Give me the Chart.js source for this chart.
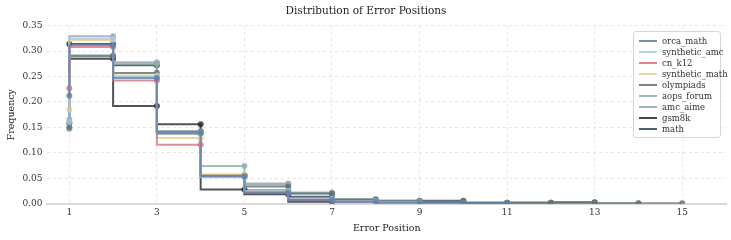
<!DOCTYPE html>
<html>
<head>
<meta charset="utf-8">
<script src="https://cdn.jsdelivr.net/npm/chart.js@4"></script>
<style>
  html, body { margin: 0; padding: 0; background: #fff; }
  #wrap { position: relative; width: 731px; height: 240px; }
  #legend {
    position: absolute; left: 633px; top: 31px; width: 88px;
    background: rgba(255,255,255,0.9); border: 1px solid #d6d6d6; border-radius: 3px;
    font-family: "DejaVu Serif", serif; font-size: 8.5px; color: #333;
    padding: 3px 2px 3px 5px; box-sizing: border-box; white-space: nowrap;
  }
  #legend .item { display: flex; align-items: center; height: 11px; }
  #legend .swatch { flex: 0 0 18px; height: 2px; margin-right: 5px; }
</style>
</head>
<body>
<div id="wrap">
  <canvas id="chart" width="731" height="240"></canvas>
  <div id="legend"></div>
</div>
<script>
// error positions and tick labels
const xTicks = [1, 3, 5, 7, 9, 11, 13, 15];
const positions = [1, 2, 3, 4, 5, 6, 7, 8, 9, 10, 11, 12, 13, 14, 15];

// frequency per error position (starting at position 1)
const orcaMath      = [0.212, 0.312, 0.247, 0.140, 0.054, 0.022, 0.008, 0.004, 0.002, 0.002, 0.001];
const syntheticAmc  = [0.160, 0.324, 0.250, 0.140, 0.052, 0.025, 0.010, 0.005, 0.003];
const cnK12         = [0.227, 0.308, 0.242, 0.116, 0.054, 0.022, 0.007, 0.003, 0.002, 0.001];
const syntheticMath = [0.185, 0.321, 0.252, 0.129, 0.058, 0.024, 0.009, 0.004, 0.002];
const olympiads     = [0.150, 0.290, 0.257, 0.142, 0.056, 0.034, 0.020, 0.008, 0.005, 0.004, 0.002, 0.002, 0.002, 0.001, 0.001];
const aopsForum     = [0.147, 0.292, 0.275, 0.140, 0.074, 0.038, 0.020, 0.009, 0.006, 0.004, 0.002, 0.002, 0.001, 0.001];
const amcAime       = [0.165, 0.329, 0.278, 0.142, 0.055, 0.040, 0.022, 0.009, 0.005, 0.003];
const gsm8k         = [0.314, 0.285, 0.192, 0.156, 0.028, 0.019, 0.004];
const mathSet       = [0.158, 0.314, 0.272, 0.138, 0.056, 0.026, 0.014, 0.006, 0.006, 0.006, 0.002, 0.002, 0.003];

const seriesNames  = ['orca_math', 'synthetic_amc', 'cn_k12', 'synthetic_math', 'olympiads', 'aops_forum', 'amc_aime', 'gsm8k', 'math'];
const seriesValues = [orcaMath, syntheticAmc, cnK12, syntheticMath, olympiads, aopsForum, amcAime, gsm8k, mathSet];
const seriesColors = ['#5b7fa6', '#a9c6dd', '#d9707f', '#e8d08c', '#5e6e72', '#8cb0a4', '#98a1b4', '#23272e', '#2d3f5e'];

function withAlpha(hex, a) {
  const n = parseInt(hex.slice(1), 16);
  return 'rgba(' + (n >> 16) + ',' + ((n >> 8) & 255) + ',' + (n & 255) + ',' + a + ')';
}

const datasets = seriesNames.map((name, i) => ({
  label: name,
  data: seriesValues[i].map((v, j) => ({ x: positions[j], y: v })),
  borderColor: withAlpha(seriesColors[i], 0.8),
  backgroundColor: withAlpha(seriesColors[i], 0.8),
  borderWidth: 2,
  pointRadius: 3,
  pointBorderWidth: 0,
  stepped: 'after',
  fill: false
}));

const serif = '"DejaVu Serif", serif';

new Chart(document.getElementById('chart').getContext('2d'), {
  type: 'line',
  data: { datasets: datasets },
  options: {
    responsive: false,
    animation: false,
    layout: { padding: { left: 6, right: 5, top: 0, bottom: 2 } },
    plugins: {
      legend: { display: false },
      tooltip: { enabled: false },
      title: {
        display: true, text: 'Distribution of Error Positions', color: '#222',
        font: { family: serif, size: 10.5, weight: 'normal' }, padding: { top: 5, bottom: 8 }
      }
    },
    scales: {
      x: {
        type: 'linear', min: 0.5, max: 16,
        afterBuildTicks: (axis) => { axis.ticks = xTicks.map(v => ({ value: v })); },
        grid: { color: '#e6e6e6', drawTicks: false },
        border: { display: true, color: '#d9d9d9', width: 2, dash: [3, 3] },
        ticks: { color: '#333', font: { family: serif, size: 9 }, padding: 3, maxRotation: 0 },
        title: { display: true, text: 'Error Position', color: '#222', font: { family: serif, size: 9.5 }, padding: { top: 2, bottom: 4 } }
      },
      y: {
        min: 0, max: 0.35,
        grid: { color: '#e6e6e6', drawTicks: false },
        border: { display: false, dash: [3, 3] },
        ticks: { stepSize: 0.05, color: '#333', font: { family: serif, size: 9 }, padding: 5, callback: v => v.toFixed(2) },
        title: { display: true, text: 'Frequency', color: '#222', font: { family: serif, size: 9.5 }, padding: { top: 0, bottom: 0 } }
      }
    }
  }
});

// legend box in the upper right, inside the plot
const legendEl = document.getElementById('legend');
seriesNames.forEach((name, i) => {
  const row = document.createElement('div');
  row.className = 'item';
  row.innerHTML = '<span class="swatch" style="background:' + withAlpha(seriesColors[i], 0.85) + '"></span><span>' + name + '</span>';
  legendEl.appendChild(row);
});
</script>
</body>
</html>
